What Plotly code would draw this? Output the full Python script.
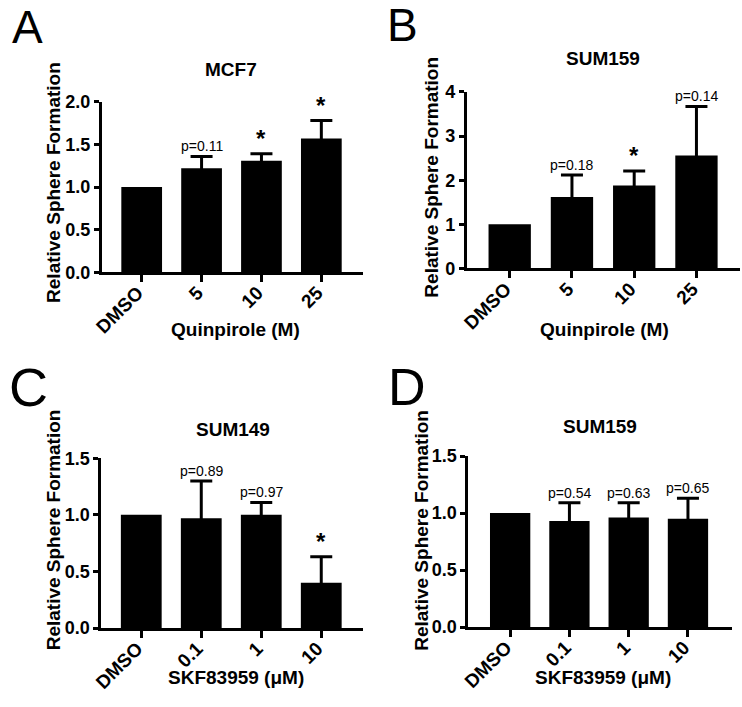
import plotly.graph_objects as go

W, H = 742, 707

# ---- data ----
cats_quin = ["DMSO", "5", "10", "25"]
cats_skf = ["DMSO", "0.1", "1", "10"]

mcf7_vals = [1.0, 1.22, 1.31, 1.57]
mcf7_err = [0, 0.14, 0.08, 0.21]
mcf7_labels = ["", "p=0.11", "*", "*"]

sum159q_vals = [1.0, 1.62, 1.88, 2.56]
sum159q_err = [0, 0.50, 0.33, 1.11]
sum159q_labels = ["", "p=0.18", "*", "p=0.14"]

sum149_vals = [1.0, 0.97, 1.0, 0.40]
sum149_err = [0, 0.33, 0.11, 0.23]
sum149_labels = ["", "p=0.89", "p=0.97", "*"]

sum159s_vals = [1.0, 0.93, 0.96, 0.95]
sum159s_err = [0, 0.16, 0.13, 0.18]
sum159s_labels = ["", "p=0.54", "p=0.63", "p=0.65"]

FONT = "Liberation Sans, Arial, sans-serif"


def px_x(p):
    return p / W


def px_y(p):
    return 1 - p / H


panels = [
    dict(cats=cats_quin, vals=mcf7_vals, err=mcf7_err, labels=mcf7_labels,
         title="MCF7", xtitle="Quinpirole (M)", letter="A",
         xd=(94, 358), yd=(94.5, 270), xr=(-0.665, 3.69), yr=(0, 2.0),
         dtick=0.5, fmt=".1f",
         tpos=(225, 61), ytpos=(45, 177.5), xtpos=(229, 329), lpos=(18.5, 17), lsize=46),
    dict(cats=cats_quin, vals=sum159q_vals, err=sum159q_err, labels=sum159q_labels,
         title="SUM159", xtitle="Quinpirole (M)", letter="B",
         xd=(463.5, 740), yd=(84.3, 266), xr=(-0.688, 3.70), yr=(0, 4.0),
         dtick=1, fmt="d",
         tpos=(601, 50), ytpos=(428, 171.7), xtpos=(603, 329), lpos=(398.5, 15), lsize=46),
    dict(cats=cats_skf, vals=sum149_vals, err=sum149_err, labels=sum149_labels,
         title="SUM149", xtitle="SKF83959 (μM)", letter="C",
         xd=(93.5, 358), yd=(461.3, 636), xr=(-0.665, 3.69), yr=(0, 1.5),
         dtick=0.5, fmt=".1f",
         tpos=(227, 432), ytpos=(45, 535), xtpos=(230, 687), lpos=(19.7, 388), lsize=54),
    dict(cats=cats_skf, vals=sum159s_vals, err=sum159s_err, labels=sum159s_labels,
         title="SUM159", xtitle="SKF83959 (μM)", letter="D",
         xd=(465, 731.7), yd=(459, 635), xr=(-0.705, 3.74), yr=(0, 1.5),
         dtick=0.5, fmt=".1f",
         tpos=(598, 429), ytpos=(418, 535), xtpos=(601, 687), lpos=(403, 388), lsize=52),
]

fig = go.Figure()
annotations = []
layout = {}

for i, p in enumerate(panels, start=1):
    xa = "x" if i == 1 else f"x{i}"
    ya = "y" if i == 1 else f"y{i}"
    xkey = "xaxis" if i == 1 else f"xaxis{i}"
    ykey = "yaxis" if i == 1 else f"yaxis{i}"

    fig.add_trace(go.Bar(
        x=p["cats"], y=p["vals"], xaxis=xa, yaxis=ya,
        width=0.68, marker=dict(color="black", line=dict(width=0)),
        showlegend=False, hoverinfo="skip",
    ))
    # error bars (upper only) for treated groups
    ex = [c for c, e in zip(p["cats"], p["err"]) if e > 0]
    ey = [v for v, e in zip(p["vals"], p["err"]) if e > 0]
    ee = [e for e in p["err"] if e > 0]
    fig.add_trace(go.Scatter(
        x=ex, y=ey, xaxis=xa, yaxis=ya, mode="markers",
        marker=dict(size=1, color="black", opacity=0),
        error_y=dict(type="data", array=ee, arrayminus=ey, symmetric=False,
                     color="black", thickness=3, width=11),
        showlegend=False, hoverinfo="skip",
    ))

    layout[xkey] = dict(
        domain=[px_x(p["xd"][0]), px_x(p["xd"][1])],
        anchor=ya, type="category", categoryorder="array", categoryarray=p["cats"],
        range=list(p["xr"]), showline=True, linecolor="black", linewidth=3,
        ticks="outside", ticklen=7, tickwidth=2.5, tickcolor="black",
        tickangle=-45, showgrid=False, zeroline=False, fixedrange=True,
        ticklabelstandoff=-8, ticklabelshift=-4,
        tickfont=dict(family=FONT, size=19, color="black", weight="bold"),
    )
    layout[ykey] = dict(
        domain=[px_y(p["yd"][1]), px_y(p["yd"][0])],
        anchor=xa, range=list(p["yr"]), dtick=p["dtick"], tick0=0,
        tickformat=p["fmt"], showline=True, linecolor="black", linewidth=3,
        ticks="outside", ticklen=5, tickwidth=2.5, tickcolor="black",
        showgrid=False, zeroline=False, fixedrange=True,
        tickfont=dict(family=FONT, size=18, color="black", weight="bold"),
    )

    # significance labels (x given as category index)
    for k, (v, e, lab) in enumerate(zip(p["vals"], p["err"], p["labels"])):
        if not lab:
            continue
        star = lab == "*"
        annotations.append(dict(
            x=k, y=v + e, xref=xa, yref=ya, text=f"<b>{lab}</b>" if star else lab,
            showarrow=False, xanchor="center", yanchor="bottom",
            yshift=0,
            font=dict(family=FONT, size=24 if star else 14, color="black"),
        ))

    # title
    annotations.append(dict(
        x=px_x(p["tpos"][0]), y=px_y(p["tpos"][1]), xref="paper", yref="paper",
        text=f"<b>{p['title']}</b>", showarrow=False, xanchor="center", yanchor="middle",
        font=dict(family=FONT, size=19, color="black"),
    ))
    # y title
    annotations.append(dict(
        x=px_x(p["ytpos"][0]), y=px_y(p["ytpos"][1]), xref="paper", yref="paper",
        text="<b>Relative Sphere Formation</b>", showarrow=False, textangle=-90,
        xanchor="center", yanchor="middle",
        font=dict(family=FONT, size=19, color="black"),
    ))
    # x title
    annotations.append(dict(
        x=px_x(p["xtpos"][0]), y=px_y(p["xtpos"][1]), xref="paper", yref="paper",
        text=f"<b>{p['xtitle']}</b>", showarrow=False, xanchor="center", yanchor="middle",
        font=dict(family=FONT, size=19, color="black"),
    ))
    # panel letter
    annotations.append(dict(
        x=px_x(p["lpos"][0]), y=px_y(p["lpos"][1]), xref="paper", yref="paper",
        text=p["letter"], showarrow=False, xanchor="center", yanchor="middle",
        font=dict(family=FONT, size=p["lsize"], color="black"),
    ))

fig.update_layout(
    width=W, height=H, autosize=False,
    margin=dict(l=0, r=0, t=0, b=0),
    paper_bgcolor="white", plot_bgcolor="white",
    annotations=annotations, showlegend=False,
    **layout,
)

fig.write_html(
    "out.html",
    config={"displayModeBar": False},
    post_script="document.body.style.margin='0';document.body.style.overflow='hidden';",
)
